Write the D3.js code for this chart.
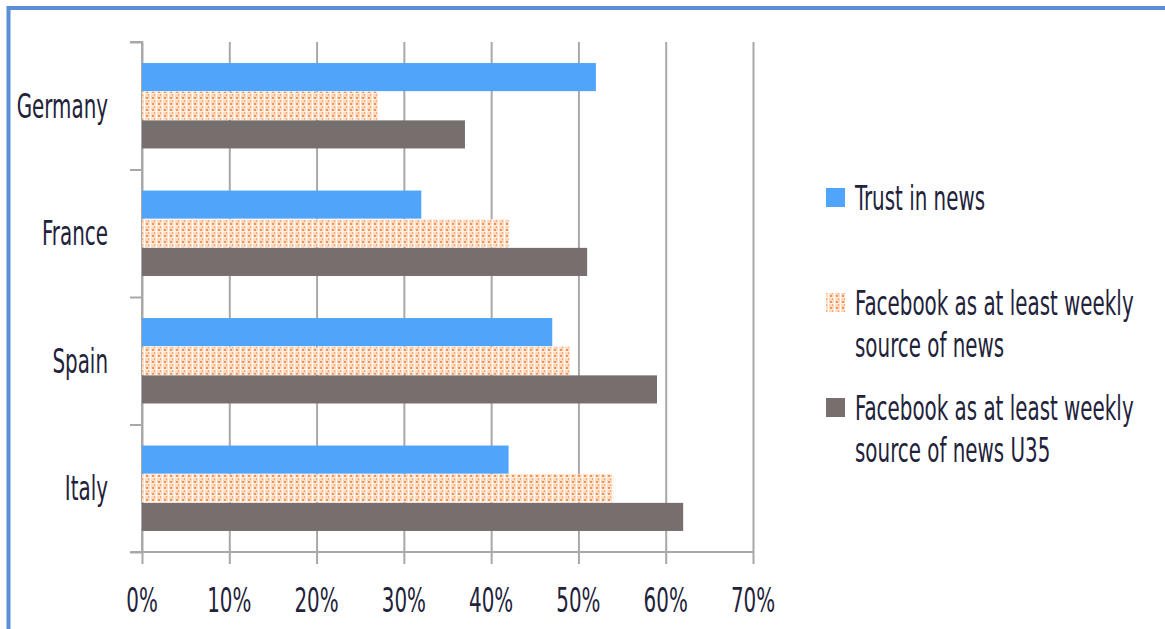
<!DOCTYPE html>
<html>
<head>
<meta charset="utf-8">
<script src="https://cdn.jsdelivr.net/npm/d3@7"></script>
<style>
  html, body { margin: 0; padding: 0; background: #fff; }
  svg { display: block; }
  text { font-family: "Liberation Sans Narrow", "DejaVu Sans Condensed", sans-serif; fill: #22223a; }
</style>
</head>
<body>
<svg id="chart" width="1165" height="629"></svg>
<script>
const categories = ["Germany", "France", "Spain", "Italy"];
const seriesNames = ["Trust in news", "Facebook as at least weekly source of news", "Facebook as at least weekly source of news U35"];
const legendLines = [["Trust in news"], ["Facebook as at least weekly", "source of news"], ["Facebook as at least weekly", "source of news U35"]];
const trustInNews = [0.52, 0.32, 0.47, 0.42];
const facebookWeekly = [0.27, 0.42, 0.49, 0.54];
const facebookWeeklyU35 = [0.37, 0.51, 0.59, 0.62];
const xTicks = [0, 0.1, 0.2, 0.3, 0.4, 0.5, 0.6, 0.7];

const series = [trustInNews, facebookWeekly, facebookWeeklyU35];
const colors = ["#50a5fb", "url(#dots)", "#776e6e"];

const svg = d3.select("#chart");

// frame
svg.append("line").attr("x1", 8.5).attr("x2", 1165).attr("y1", 8).attr("y2", 8)
  .attr("stroke", "#5a8fd8").attr("stroke-width", 4);
svg.append("line").attr("x1", 8.5).attr("x2", 8.5).attr("y1", 6).attr("y2", 629)
  .attr("stroke", "#5a8fd8").attr("stroke-width", 4);

// pattern
const defs = svg.append("defs");
const pat = defs.append("pattern").attr("id", "dots").attr("patternUnits", "userSpaceOnUse")
  .attr("width", 6).attr("height", 6);
pat.append("rect").attr("width", 6).attr("height", 6).attr("fill", "#fdd9bf");
pat.append("rect").attr("x", 0).attr("y", 0).attr("width", 1).attr("height", 6).attr("fill", "#ffffff");
pat.append("rect").attr("x", 0).attr("y", 3).attr("width", 6).attr("height", 1).attr("fill", "#fff1e6");
pat.append("rect").attr("x", 2).attr("y", 1).attr("width", 2).attr("height", 2).attr("fill", "#f6914f");
pat.append("rect").attr("x", 4).attr("y", 4).attr("width", 1).attr("height", 2).attr("fill", "#f8a870");

const x0 = 142, x1 = 753, yTop = 42, yBot = 552;
const x = d3.scaleLinear().domain([0, 0.7]).range([x0, x1]);
const y = d3.scaleBand().domain(categories).range([yTop, yBot]).paddingInner(0).paddingOuter(0);
const bandEdges = d3.scaleLinear().domain([0, categories.length]).range([yTop, yBot]);
const sub = d3.scaleBand().domain(d3.range(series.length))
  .range([y.bandwidth() * 0.165, y.bandwidth() * 0.835]).paddingInner(0.02);

const gridColor = "#a8a8a8";

// gridlines + x ticks
const xAxis = d3.axisBottom(x).tickValues(xTicks).tickSize(12).tickFormat("");
const gx = svg.append("g").attr("transform", `translate(0,${yBot})`).call(xAxis);
gx.select(".domain").remove();
gx.selectAll(".tick line").attr("stroke", gridColor).attr("stroke-width", 2).attr("y2", -(yBot - yTop)).attr("y1", 12);

// y axis with ticks at band edges
const yAxis = d3.axisLeft(bandEdges).tickValues(d3.range(categories.length + 1)).tickSize(12).tickFormat("");
const gy = svg.append("g").attr("transform", `translate(${x0},0)`).call(yAxis);
gy.select(".domain").attr("stroke", gridColor).attr("stroke-width", 2).attr("d", `M-12,${yTop}H0V${yBot}H-12`);
gy.selectAll(".tick line").attr("stroke", gridColor).attr("stroke-width", 2);
svg.append("line").attr("x1", x0).attr("x2", x1).attr("y1", yBot).attr("y2", yBot)
  .attr("stroke", gridColor).attr("stroke-width", 2);

// bars
series.forEach((vals, si) => {
  svg.append("g").selectAll("rect").data(vals).join("rect")
    .attr("x", x(0))
    .attr("y", (d, i) => y(categories[i]) + sub(si))
    .attr("width", d => x(d) - x(0))
    .attr("height", sub.bandwidth())
    .attr("fill", colors[si]);
});

// condensed text helper
const SX = 0.67;
function condensedText(parent, tx, ty, str, anchor, size) {
  const g = parent.append("g").attr("transform", `translate(${tx},${ty}) scale(${SX},1)`);
  g.append("text").attr("text-anchor", anchor).style("font-size", size + "px").text(str);
  return g;
}

// category labels
categories.forEach(c => {
  condensedText(svg, 108, y(c) + y.bandwidth() / 2 + 12, c, "end", 33);
});

// x tick labels
xTicks.forEach(v => {
  condensedText(svg, x(v), 612, d3.format(".0%")(v), "middle", 33);
});

// legend
const legendY = [208, 313, 418];
legendLines.forEach((lines, i) => {
  svg.append("rect").attr("x", 826).attr("y", legendY[i] - 20).attr("width", 19).attr("height", 19)
    .attr("fill", colors[i]);
  lines.forEach((ln, j) => {
    condensedText(svg, 855, legendY[i] + 2 + j * 42, ln, "start", 33);
  });
});
</script>
</body>
</html>
